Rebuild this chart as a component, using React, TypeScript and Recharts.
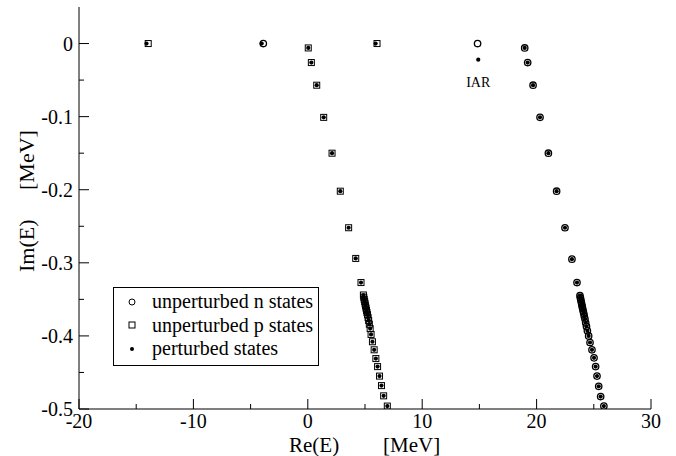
import { ScatterChart, Scatter, XAxis, YAxis, Legend, ReferenceDot } from "recharts";

const FONT = '"Liberation Serif", "Times New Roman", serif';

// isolated (bound) states on the real axis
const isolatedN = [
  { x: -3.89, y: 0 },
  { x: 14.84, y: 0 },
];
const isolatedP = [
  { x: -13.95, y: 0 },
  { x: 6.05, y: 0 },
];
const iar = { x: 14.9, y: -0.022 };
const isolatedPerturbed = [
  { x: -14.1, y: 0 },
  { x: -4.03, y: 0 },
  { x: 5.93, y: 0 },
  iar,
];

// continuum branch of the p states
const pBranch = [
  { x: 0.04, y: -0.006 }, { x: 0.31, y: -0.026 }, { x: 0.78, y: -0.057 },
  { x: 1.39, y: -0.101 }, { x: 2.12, y: -0.15 }, { x: 2.84, y: -0.202 },
  { x: 3.57, y: -0.252 }, { x: 4.19, y: -0.294 }, { x: 4.65, y: -0.327 },
  { x: 4.86, y: -0.344 }, { x: 4.89, y: -0.347 }, { x: 4.93, y: -0.35 },
  { x: 4.97, y: -0.353 }, { x: 5.01, y: -0.356 }, { x: 5.05, y: -0.359 },
  { x: 5.09, y: -0.362 }, { x: 5.13, y: -0.365 }, { x: 5.17, y: -0.368 },
  { x: 5.22, y: -0.371 }, { x: 5.27, y: -0.375 }, { x: 5.32, y: -0.379 },
  { x: 5.38, y: -0.384 }, { x: 5.45, y: -0.39 }, { x: 5.53, y: -0.398 },
  { x: 5.65, y: -0.408 }, { x: 5.8, y: -0.419 }, { x: 5.95, y: -0.431 },
  { x: 6.1, y: -0.442 }, { x: 6.27, y: -0.455 }, { x: 6.44, y: -0.468 },
  { x: 6.63, y: -0.482 }, { x: 6.95, y: -0.496 },
];

// continuum branch of the n states
const nBranch = [
  { x: 18.96, y: -0.006 }, { x: 19.22, y: -0.026 }, { x: 19.69, y: -0.057 },
  { x: 20.3, y: -0.101 }, { x: 21.03, y: -0.15 }, { x: 21.75, y: -0.202 },
  { x: 22.48, y: -0.252 }, { x: 23.09, y: -0.295 }, { x: 23.53, y: -0.327 },
  { x: 23.79, y: -0.345 }, { x: 23.83, y: -0.348 }, { x: 23.87, y: -0.351 },
  { x: 23.91, y: -0.354 }, { x: 23.95, y: -0.357 }, { x: 23.99, y: -0.36 },
  { x: 24.03, y: -0.363 }, { x: 24.07, y: -0.366 }, { x: 24.12, y: -0.369 },
  { x: 24.17, y: -0.373 }, { x: 24.23, y: -0.377 }, { x: 24.29, y: -0.382 },
  { x: 24.36, y: -0.387 }, { x: 24.44, y: -0.393 }, { x: 24.55, y: -0.4 },
  { x: 24.67, y: -0.409 }, { x: 24.84, y: -0.419 }, { x: 25.02, y: -0.43 },
  { x: 25.16, y: -0.442 }, { x: 25.28, y: -0.455 }, { x: 25.43, y: -0.469 },
  { x: 25.6, y: -0.483 }, { x: 25.88, y: -0.496 },
];

const xTicks = [-20, -15, -10, -5, 0, 5, 10, 15, 20, 25, 30];
const yTicks = [-0.5, -0.45, -0.4, -0.35, -0.3, -0.25, -0.2, -0.15, -0.1, -0.05, 0];
const legendNames = ["unperturbed n states", "unperturbed p states", "perturbed states"];

const nStates = [...isolatedN, ...nBranch];
const pStates = [...isolatedP, ...pBranch];
const perturbed = [...isolatedPerturbed, ...pBranch, ...nBranch];

const isMajorX = (v: number) => Math.abs(v % 10) < 1e-9;
const isMajorY = (v: number) => Math.round(v * 100) % 10 === 0;

const BottomTick = ({ x, y, payload }: any) => {
  const major = isMajorX(payload.value);
  return (
    <g>
      <line x1={x} x2={x} y1={y} y2={y - (major ? 10 : 5)} stroke="#000" />
      {major && (
        <text x={x} y={y + 19} textAnchor="middle" fontSize={20} fontFamily={FONT} fill="#000">
          {payload.value}
        </text>
      )}
    </g>
  );
};

const TopTick = ({ x, y, payload }: any) => (
  <line x1={x} x2={x} y1={y} y2={y + (isMajorX(payload.value) ? 10 : 5)} stroke="#000" />
);

const LeftTick = ({ x, y, payload }: any) => {
  const v = payload.value;
  const major = isMajorY(v);
  return (
    <g>
      <line x1={x} x2={x + (major ? 10 : 5)} y1={y} y2={y} stroke="#000" />
      {major && (
        <text x={x - 6} y={y + 7} textAnchor="end" fontSize={20} fontFamily={FONT} fill="#000">
          {v === 0 ? "0" : v.toFixed(1)}
        </text>
      )}
    </g>
  );
};

const RightTick = ({ x, y, payload }: any) => (
  <line x1={x} x2={x - (isMajorY(payload.value) ? 10 : 5)} y1={y} y2={y} stroke="#000" />
);

const OpenCircle = ({ cx, cy }: any) => (
  <circle cx={cx} cy={cy} r={3.2} fill="none" stroke="#000" strokeWidth={1.3} />
);
const OpenSquare = ({ cx, cy }: any) => (
  <rect x={cx - 3} y={cy - 3} width={6} height={6} fill="none" stroke="#000" strokeWidth={1} />
);
const Dot = ({ cx, cy }: any) => <circle cx={cx} cy={cy} r={2.1} fill="#000" />;

const XTitle = () => (
  <g fontFamily={FONT} fontSize={21} fill="#000">
    <text x={289} y={452}>Re(E)</text>
    <text x={383} y={452}>[MeV]</text>
  </g>
);

const YTitle = () => (
  <g fontFamily={FONT} fontSize={22} fill="#000">
    <text transform="translate(34,272) rotate(-90)">Im(E)</text>
    <text transform="translate(34,190) rotate(-90)">[MeV]</text>
  </g>
);

const IarLabel = ({ viewBox }: any) => (
  <text
    x={viewBox.x + viewBox.width / 2}
    y={viewBox.y + viewBox.height / 2 + 27}
    textAnchor="middle"
    fontSize={14}
    fontFamily={FONT}
    fill="#000"
  >
    IAR
  </text>
);

const legendSymbols = [
  <circle cx={6} cy={6} r={3} fill="none" stroke="#000" strokeWidth={1} />,
  <rect x={3} y={3} width={6} height={6} fill="none" stroke="#000" strokeWidth={1} />,
  <circle cx={6} cy={6} r={2} fill="#000" />,
];

const LegendBox = () => (
  <div
    style={{
      boxSizing: "border-box",
      width: 206,
      height: 79,
      border: "1px solid #000",
      background: "#fff",
      paddingTop: 2,
      fontFamily: FONT,
      fontSize: 20,
      color: "#000",
    }}
  >
    {legendNames.map((name, i) => (
      <div key={name} style={{ display: "flex", alignItems: "center", height: 23.5 }}>
        <svg width={12} height={12} style={{ marginLeft: 12, marginRight: 14 }}>
          {legendSymbols[i]}
        </svg>
        <span style={{ lineHeight: "23.5px", whiteSpace: "nowrap" }}>{name}</span>
      </div>
    ))}
  </div>
);

export default function App() {
  return (
    <div style={{ position: "absolute", left: 0, top: 0, background: "#fff" }}>
      <ScatterChart width={676} height={456} margin={{ top: 7, right: 25, bottom: 0, left: 0 }}>
        <XAxis
          type="number"
          dataKey="x"
          domain={[-20, 30]}
          ticks={xTicks}
          interval={0}
          allowDataOverflow
          height={47}
          tickSize={0}
          tickMargin={0}
          tickLine={false}
          tick={<BottomTick />}
          axisLine={{ stroke: "#000" }}
          label={{ content: <XTitle /> }}
        />
        <XAxis
          xAxisId="top"
          orientation="top"
          type="number"
          dataKey="x"
          domain={[-20, 30]}
          ticks={xTicks}
          interval={0}
          allowDataOverflow
          height={0}
          tickSize={0}
          tickMargin={0}
          tickLine={false}
          tick={<TopTick />}
          axisLine={{ stroke: "#000" }}
        />
        <YAxis
          type="number"
          dataKey="y"
          domain={[-0.5, 0.05]}
          ticks={yTicks}
          interval={0}
          allowDataOverflow
          width={79}
          tickSize={0}
          tickMargin={0}
          tickLine={false}
          tick={<LeftTick />}
          axisLine={{ stroke: "#000" }}
          label={{ content: <YTitle /> }}
        />
        <YAxis
          yAxisId="right"
          orientation="right"
          type="number"
          dataKey="y"
          domain={[-0.5, 0.05]}
          ticks={yTicks}
          interval={0}
          allowDataOverflow
          width={0}
          tickSize={0}
          tickMargin={0}
          tickLine={false}
          tick={<RightTick />}
          axisLine={{ stroke: "#000" }}
        />
        <Scatter name={legendNames[0]} data={nStates} shape={<OpenCircle />} isAnimationActive={false} />
        <Scatter name={legendNames[1]} data={pStates} shape={<OpenSquare />} isAnimationActive={false} />
        <Scatter name={legendNames[2]} data={perturbed} shape={<Dot />} isAnimationActive={false} />
        <ReferenceDot x={iar.x} y={iar.y} r={0} stroke="none" fill="none" label={{ content: <IarLabel /> }} />
        <Legend
          layout="vertical"
          align="center"
          verticalAlign="middle"
          content={<LegendBox />}
          wrapperStyle={{ left: 113, top: 287, width: 206, height: 79 }}
        />
      </ScatterChart>
    </div>
  );
}
